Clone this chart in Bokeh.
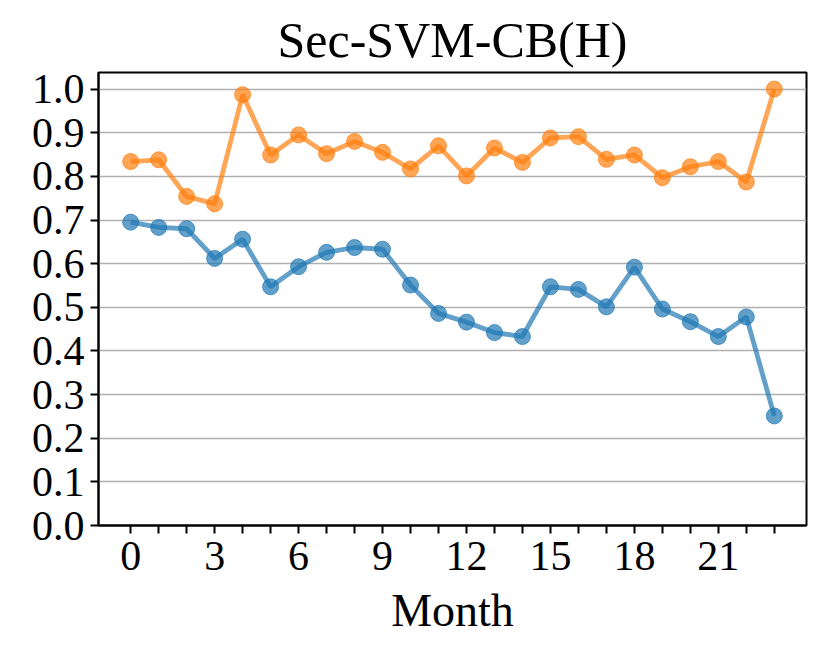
from bokeh.plotting import figure
from bokeh.models import Range1d, FixedTicker, ColumnDataSource
from bokeh.embed import file_html
from bokeh.resources import INLINE

months = list(range(24))
series_blue = [0.695, 0.683, 0.680, 0.612, 0.656, 0.547, 0.593, 0.626, 0.637, 0.633,
               0.551, 0.486, 0.466, 0.442, 0.433, 0.547, 0.541, 0.501, 0.592, 0.496,
               0.467, 0.433, 0.478, 0.251]
series_orange = [0.834, 0.838, 0.754, 0.737, 0.987, 0.849, 0.895, 0.852, 0.880, 0.855,
                 0.817, 0.870, 0.801, 0.865, 0.832, 0.888, 0.891, 0.839, 0.849, 0.797,
                 0.822, 0.834, 0.787, 1.000]
y_ticks = [round(0.1 * i, 1) for i in range(11)]
x_label_ticks = [0, 3, 6, 9, 12, 15, 18, 21]
title_text = "Sec-SVM-CB(H)"
x_label = "Month"

FONT = "Liberation Serif"

p = figure(frame_width=708, frame_height=453, output_backend="svg", toolbar_location=None,
           x_range=Range1d(-1.15, 24.15), y_range=Range1d(0, 1.038),
           min_border_left=98, min_border_top=72, min_border_right=8, min_border_bottom=116,
           title=title_text)

p.title.text_font = FONT
p.title.text_font_size = "50px"
p.title.text_font_style = "normal"
p.title.align = "center"
p.title.text_color = "black"

src = ColumnDataSource(dict(x=months, b=series_blue, o=series_orange))
for col, color in (("b", "#1f77b4"), ("o", "#ff7f0e")):
    p.line("x", col, source=src, line_color=color, line_alpha=0.7, line_width=4.8)
    p.scatter("x", col, source=src, size=16, fill_color=color, fill_alpha=0.7,
              line_color=color, line_alpha=0.7, line_width=1)

p.outline_line_color = "black"
p.outline_line_width = 2
p.outline_line_alpha = 1

p.xgrid.grid_line_color = None
p.ygrid.grid_line_color = "#b0b0b0"
p.ygrid.grid_line_width = 1.6
p.ygrid.ticker = FixedTicker(ticks=y_ticks)

p.xaxis.ticker = FixedTicker(ticks=months)
p.xaxis.major_label_overrides = {m: (str(m) if m in x_label_ticks else "") for m in months}
p.yaxis.ticker = FixedTicker(ticks=y_ticks)
p.yaxis.major_label_overrides = {t: f"{t:.1f}" for t in y_ticks}

for ax in (p.xaxis[0], p.yaxis[0]):
    ax.axis_line_color = "black"
    ax.axis_line_width = 2
    ax.major_tick_line_color = "black"
    ax.major_tick_line_width = 2
    ax.major_tick_out = 8
    ax.major_tick_in = 0
    ax.minor_tick_line_color = None
    ax.major_label_text_font = FONT
    ax.major_label_text_font_size = "42px"
    ax.major_label_text_color = "black"
    ax.major_label_standoff = 6

p.xaxis.major_label_standoff = 8
p.xaxis.axis_label = x_label
p.xaxis.axis_label_text_font = FONT
p.xaxis.axis_label_text_font_size = "46px"
p.xaxis.axis_label_text_font_style = "normal"
p.xaxis.axis_label_text_color = "black"
p.xaxis.axis_label_standoff = 12

open("out.html", "w").write(file_html(p, INLINE))
